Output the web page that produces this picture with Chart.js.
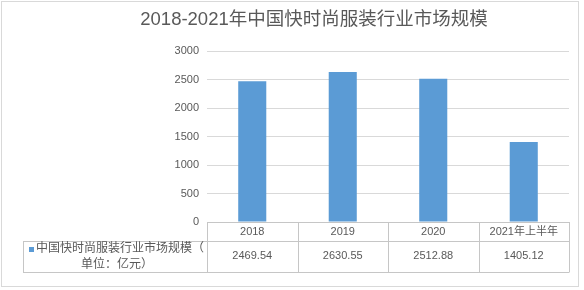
<!DOCTYPE html>
<html><head><meta charset="utf-8">
<script src="https://cdn.jsdelivr.net/npm/chart.js@4"></script>
<style>html,body{margin:0;padding:0;background:#fff;}#wrap{width:584px;height:290px;position:relative;}</style>
</head><body><div id="wrap"><canvas id="c" width="584" height="290"></canvas></div>
<script>
const titleText = '2018-2021年中国快时尚服装行业市场规模';
const categories = ['2018', '2019', '2020', '2021年上半年'];
const values = [2469.54, 2630.55, 2512.88, 1405.12];
const valueLabels = ['2469.54', '2630.55', '2512.88', '1405.12'];
const seriesLine1 = '中国快时尚服装行业市场规模（';
const seriesLine2 = '单位：亿元）';
const yMin = 0, yMax = 3000, yStep = 500;

const FONT = "'Liberation Sans','Noto Sans CJK SC',sans-serif";
const TXT = '#595959';
const LINE = '#c6c6c6';
const BAR = '#5b9bd5';

const tablePlugin = {
  id: 'tablePlugin',
  afterDraw(chart) {
    const ctx = chart.ctx;
    const a = chart.chartArea;
    const xs = chart.scales.x;
    const n = categories.length;
    const w = (a.right - a.left) / n;
    const y0 = a.bottom, y1 = a.bottom + 19, y2 = a.bottom + 50;
    const tl = 23;
    ctx.save();
    ctx.strokeStyle = LINE; ctx.lineWidth = 1;
    ctx.beginPath();
    ctx.moveTo(tl, y1 + 0.5); ctx.lineTo(a.right, y1 + 0.5);
    ctx.moveTo(tl, y2 + 0.5); ctx.lineTo(a.right, y2 + 0.5);
    for (let i = 0; i <= n; i++) {
      const x = Math.round(a.left + i * w) + 0.5;
      ctx.moveTo(x, y0); ctx.lineTo(x, y2 + 0.5);
    }
    ctx.moveTo(tl + 0.5, y1); ctx.lineTo(tl + 0.5, y2 + 0.5);
    ctx.stroke();
    // values
    ctx.fillStyle = TXT;
    ctx.font = '11px ' + FONT;
    ctx.textAlign = 'center'; ctx.textBaseline = 'middle';
    for (let i = 0; i < n; i++) {
      ctx.fillText(valueLabels[i], xs.getPixelForTick(i), y1 + 15);
    }
    // legend label
    ctx.fillStyle = BAR;
    ctx.fillRect(29, y1 + 6, 5, 5);
    ctx.fillStyle = TXT;
    ctx.font = '12px ' + FONT;
    ctx.textAlign = 'left';
    ctx.fillText(seriesLine1, 36, y1 + 8);
    ctx.textAlign = 'center';
    ctx.fillText(seriesLine2, 117, y1 + 24);
    // title
    ctx.font = '18.5px ' + FONT;
    ctx.fillText(titleText, 314, 20);
    // outer border
    ctx.strokeStyle = '#d9d9d9';
    ctx.strokeRect(1.5, 1.5, 577, 285);
    ctx.restore();
  }
};

new Chart(document.getElementById('c'), {
  type: 'bar',
  data: {
    labels: categories,
    datasets: [{
      label: seriesLine1 + seriesLine2,
      data: values,
      backgroundColor: BAR,
      borderWidth: 0,
      barPercentage: 0.31,
      categoryPercentage: 1
    }]
  },
  options: {
    responsive: false,
    animation: false,
    devicePixelRatio: 1,
    layout: { padding: { top: 51, right: 15, left: 0, bottom: 0 } },
    plugins: { legend: { display: false }, title: { display: false }, tooltip: { enabled: false } },
    scales: {
      x: {
        grid: { display: false, drawTicks: false },
        border: { display: true, color: LINE },
        ticks: { color: TXT, font: { size: 11, family: FONT }, padding: 3, maxRotation: 0, autoSkip: false },
        afterFit(s) { s.height = 68; }
      },
      y: {
        min: yMin, max: yMax,
        grid: { color: '#d9d9d9', drawTicks: false },
        border: { display: false },
        ticks: { stepSize: yStep, color: TXT, font: { size: 11, family: FONT }, padding: 8, callback: (v) => String(v) },
        afterFit(s) { s.width = 207; }
      }
    }
  },
  plugins: [tablePlugin]
});
</script></body></html>
